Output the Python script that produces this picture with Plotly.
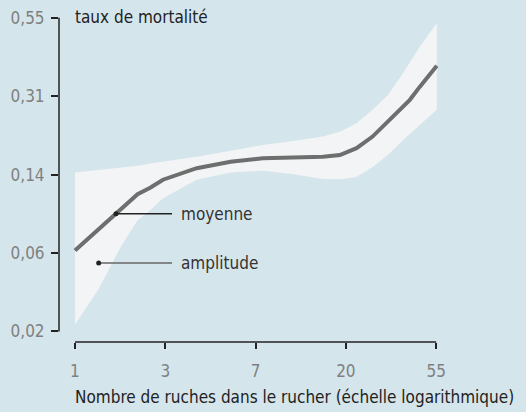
import numpy as np
import plotly.graph_objects as go

# nombre de ruches et taux de mortalité
ruches_moyenne = [1, 2, 2.3, 2.65, 3.85, 5.6, 8, 12, 15.6, 18.8, 22.6, 27, 32.7, 40.8, 45.6, 55]
taux_moyenne = [0.059, 0.114, 0.1225, 0.134, 0.152, 0.163, 0.169, 0.171, 0.172, 0.175,
                0.188, 0.2115, 0.249, 0.300, 0.3365, 0.398]

ruches_amplitude = [1, 1.3, 1.65, 2, 2.3, 2.65, 3.85, 5.6, 8, 10.8, 15.6, 19, 22.6, 27, 32, 38, 45.6, 55]
taux_haut = [0.145, 0.149, 0.153, 0.156, 0.160, 0.163, 0.172, 0.183, 0.194, 0.201, 0.2115,
             0.223, 0.241, 0.274, 0.313, 0.378, 0.458, 0.532]
taux_bas = [0.0238, 0.037, 0.061, 0.0845, 0.095, 0.109, 0.134, 0.145, 0.148, 0.143, 0.135,
            0.1346, 0.138, 0.154, 0.175, 0.205, 0.237, 0.274]

# graduations : x en log naturel, y en logit
x_ticks = [0, 1, 2, 3, 4]
y_ticks = [-3.8, -2.8, -1.8, -0.8, 0.2]

# points repères des légendes
moyenne_ruches = 1.575
amplitude_ruches, amplitude_taux = 1.30, 0.0508
fin_trait_ruches = 2.93

FONT = "DejaVu Sans Condensed, DejaVu Sans, sans-serif"
BG = "#d5e5ec"


def logit(p):
    p = np.asarray(p, dtype=float)
    return np.log(p / (1 - p))


def expit(v):
    return 1 / (1 + np.exp(-v))


x_moy = np.log(ruches_moyenne)
y_moy = logit(taux_moyenne)
x_amp = np.log(ruches_amplitude)

fig = go.Figure()

# bande d'amplitude
fig.add_trace(go.Scatter(
    x=np.concatenate([x_amp, x_amp[::-1]]),
    y=np.concatenate([logit(taux_haut), logit(taux_bas)[::-1]]),
    fill="toself", fillcolor="#f2f4f5", line=dict(width=0),
    mode="lines", hoverinfo="skip", showlegend=False
))

# courbe moyenne
fig.add_trace(go.Scatter(
    x=x_moy, y=y_moy, mode="lines",
    line=dict(color="#6e6e6e", width=4),
    showlegend=False
))

# traits de légende
xm = np.log(moyenne_ruches)
ym = np.interp(xm, x_moy, y_moy)
xa = np.log(amplitude_ruches)
ya = float(logit(amplitude_taux))
xe = np.log(fin_trait_ruches)
for (x0, y0, col, label) in [(xm, ym, "#222222", "moyenne"), (xa, ya, "#666666", "amplitude")]:
    fig.add_trace(go.Scatter(
        x=[x0, xe], y=[y0, y0], mode="lines",
        line=dict(color=col, width=1.5), showlegend=False, hoverinfo="skip"
    ))
    fig.add_trace(go.Scatter(
        x=[x0], y=[y0], mode="markers",
        marker=dict(color="#222222", size=5), showlegend=False, hoverinfo="skip"
    ))
    fig.add_annotation(
        x=xe, y=y0, text=label, showarrow=False, xanchor="left", yanchor="middle",
        xshift=7, font=dict(family=FONT, size=17, color="#333333")
    )

# titres
fig.add_annotation(
    x=x_ticks[0], y=y_ticks[-1], text="taux de mortalité", showarrow=False,
    xanchor="left", yanchor="middle", xshift=-2, yshift=1,
    font=dict(family=FONT, size=17, color="#222222")
)
fig.add_annotation(
    x=x_ticks[0], xref="x", y=-0.166, yref="paper",
    text="Nombre de ruches dans le rucher (échelle logarithmique)", showarrow=False,
    xanchor="left", yanchor="middle", xshift=-2,
    font=dict(family=FONT, size=17, color="#222222")
)

# lignes d'axes limitées aux graduations
fig.add_shape(type="line", xref="x domain", yref="y", x0=0, x1=0,
              y0=y_ticks[0], y1=y_ticks[-1], line=dict(color="#222222", width=1.5))
fig.add_shape(type="line", xref="x", yref="y domain", y0=0, y1=0,
              x0=x_ticks[0], x1=x_ticks[-1], line=dict(color="#222222", width=1.5))

fig.update_xaxes(
    range=[-0.177, 4.264], showgrid=False, zeroline=False, showline=False, automargin=False,
    tickvals=x_ticks, ticktext=[f"{np.exp(k):.0f}" for k in x_ticks],
    ticks="outside", ticklen=6, tickwidth=1.5, tickcolor="#222222", ticklabelstandoff=8,
    tickfont=dict(family=FONT, size=17, color="#808080")
)
fig.update_yaxes(
    range=[-3.935, 0.298], showgrid=False, zeroline=False, showline=False, automargin=False,
    tickvals=y_ticks, ticktext=[f"{expit(k):.2f}".replace(".", ",") for k in y_ticks],
    ticks="outside", ticklen=7, tickwidth=1.5, tickcolor="#222222", ticklabelstandoff=3,
    tickfont=dict(family=FONT, size=17, color="#808080")
)

fig.update_layout(
    width=526, height=412,
    margin=dict(l=59, r=66, t=10, b=70),
    paper_bgcolor=BG, plot_bgcolor=BG,
    font=dict(family=FONT)
)

# pas de marge de page autour du graphique, pas de barre d'outils
fig.write_html("out.html", config={"displayModeBar": False},
               post_script="document.body.style.margin = '0';")
